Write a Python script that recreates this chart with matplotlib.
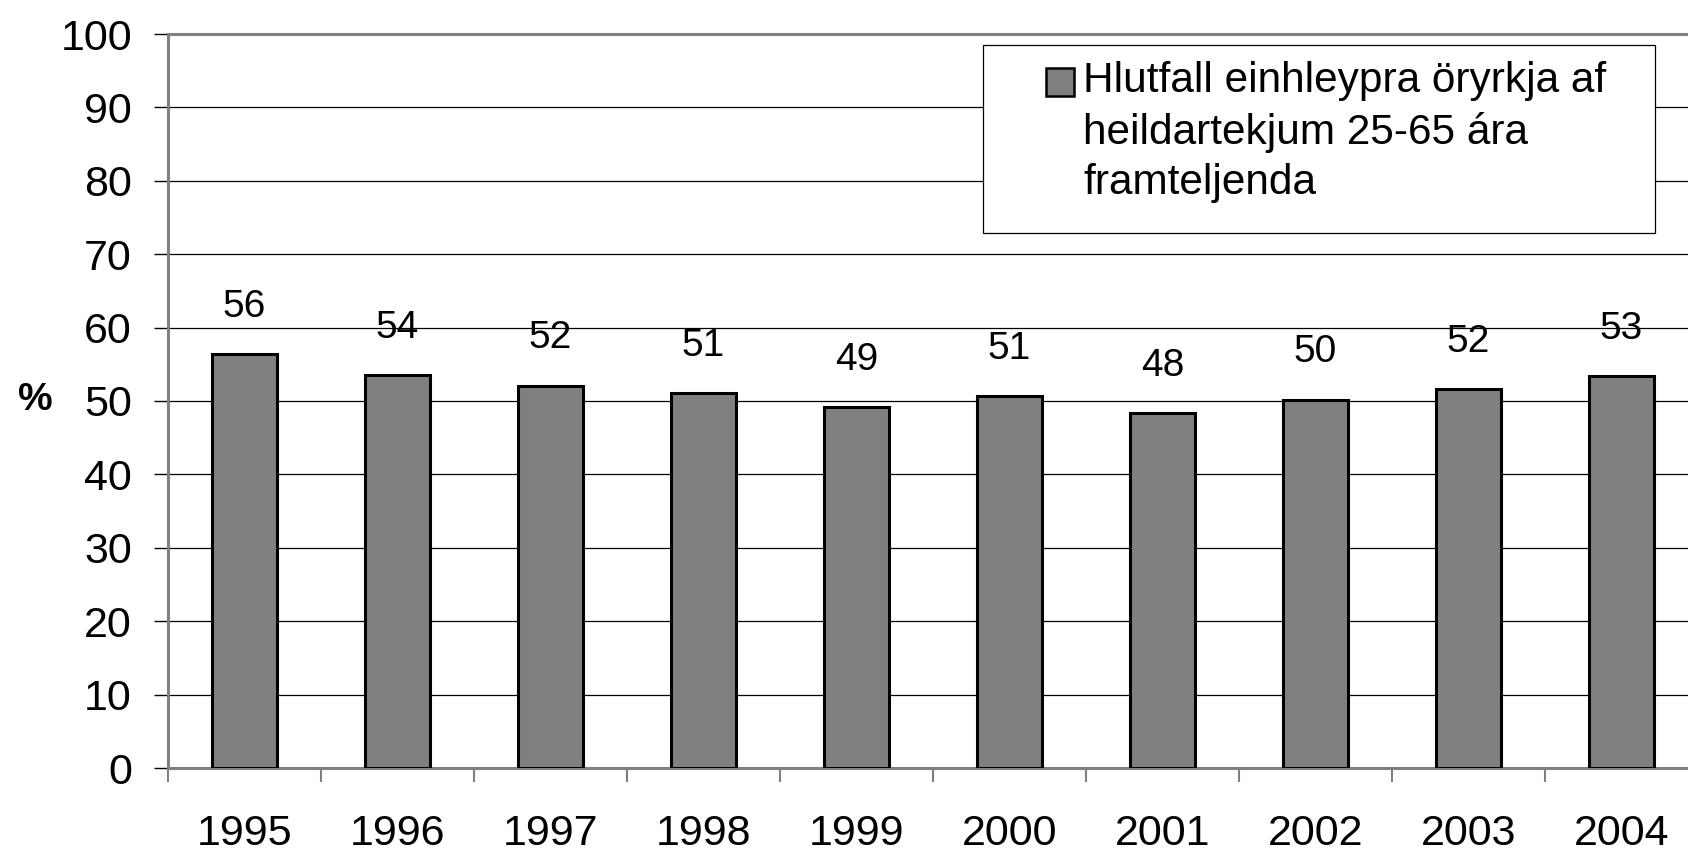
import numpy as np
import matplotlib.pyplot as plt
from matplotlib.patches import Rectangle

plt.rcParams['font.family'] = ['Liberation Sans', 'DejaVu Sans']

# data
years = ["1995", "1996", "1997", "1998", "1999", "2000", "2001", "2002", "2003", "2004"]
values = [56.4, 53.5, 52.1, 51.1, 49.2, 50.7, 48.3, 50.2, 51.6, 53.4]
labels = ["56", "54", "52", "51", "49", "51", "48", "50", "52", "53"]
legend_text = "Hlutfall einhleypra öryrkja af\nheildartekjum 25-65 ára\nframteljenda"

fig = plt.figure(figsize=(16.88, 8.51), dpi=100)
ax = fig.add_axes([168/1688, 1-768/851, 1530/1688, (768-34)/851])

x = np.arange(len(years))
ax.bar(x, values, width=0.42, color="#808080", edgecolor="black", linewidth=2.2, zorder=3)

for xi, v, lab in zip(x, values, labels):
    ax.annotate(lab, (xi, v), xytext=(0, 34), textcoords="offset points",
                ha="center", va="center", fontsize=28)

ax.set_xlim(-0.5, len(years) - 0.5)
ax.set_ylim(0, 100)
ax.set_yticks(np.arange(0, 101, 10))
ax.yaxis.grid(True, color="black", linewidth=0.9, zorder=0)
ax.set_axisbelow(True)

# ticks between categories
ax.set_xticks(np.arange(-0.5, len(years), 1))
ax.set_xticklabels([])
ax.set_xticks(x, minor=True)
ax.set_xticklabels(years, minor=True, fontsize=31)
ax.tick_params(axis="x", which="major", length=10, width=1.5, color="#808080", direction="out")
ax.tick_params(axis="x", which="minor", length=0, pad=33)
ax.tick_params(axis="y", length=10, width=1, color="black", labelsize=31, pad=16)

for side in ["left", "bottom", "top"]:
    ax.spines[side].set_color("#808080")
    ax.spines[side].set_linewidth(2.2)
ax.spines["right"].set_visible(False)

fig.text(35/1688, 1-400/851, "%", fontsize=28, fontweight="bold", ha="center", va="center")

# legend box
fig.patches.append(Rectangle((983/1688, 1-233/851), (1655-983)/1688, (233-45)/851,
                             transform=fig.transFigure, facecolor="white",
                             edgecolor="black", linewidth=0.9, zorder=5))
fig.patches.append(Rectangle((1046/1688, 1-96/851), 28/1688, 28/851,
                             transform=fig.transFigure, facecolor="#808080",
                             edgecolor="black", linewidth=1.8, zorder=6))
fig.text(1083/1688, 1-61/851, legend_text, fontsize=30.5, ha="left", va="top",
         linespacing=1.33, zorder=7)

fig.savefig("out.png", dpi=100)
